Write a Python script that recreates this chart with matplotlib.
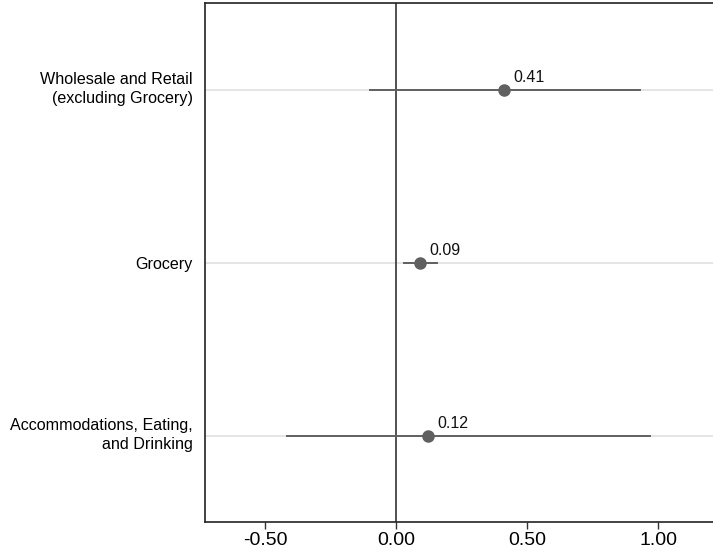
import matplotlib.pyplot as plt
import matplotlib.transforms as mtransforms

plt.rcParams['font.family'] = ['Liberation Sans', 'DejaVu Sans']

# Data
categories = ["Wholesale and Retail\n(excluding Grocery)",
              "Grocery",
              "Accommodations, Eating,\nand Drinking"]
estimates = [0.41, 0.09, 0.12]
ci_low = [-0.10, 0.03, -0.415]
ci_high = [0.93, 0.155, 0.97]
xticks = [-0.5, 0.0, 0.5, 1.0]

fig = plt.figure(figsize=(7.13, 5.59), dpi=100)
ax = fig.add_axes([205 / 713, 1 - 522 / 559, 1 - 205 / 713, (522 - 3) / 559])

ypos = list(range(len(categories), 0, -1))
point_col = '#606060'

for y in ypos:
    ax.axhline(y, color='#e0e0e0', lw=1.2, zorder=1)
ax.axvline(0, color='#333333', lw=1.2, zorder=2)

for y, est, lo, hi in zip(ypos, estimates, ci_low, ci_high):
    ax.plot([lo, hi], [y, y], color=point_col, lw=1.4, zorder=3)
    ax.plot(est, y, 'o', color=point_col, ms=8, zorder=4)
    ax.annotate(f"{est:.2f}", (est, y), xytext=(7, 3), textcoords='offset points',
                ha='left', va='bottom', fontsize=11.5, color='#111111')

ax.set_xlim(-0.73, 1.21)
ax.set_ylim(0.5, len(categories) + 0.5)
ax.set_xticks(xticks)
ax.set_xticklabels([f"{t:.2f}" for t in xticks], fontsize=14)
ax.set_yticks(ypos)
ax.set_yticklabels(categories, fontsize=11.6, ha='right', linespacing=1.3)
ax.tick_params(axis='y', length=0, pad=9)
ax.tick_params(axis='x', length=5, width=1, color='#333333', pad=2)

# two-line labels sit a little above the row line
shift = mtransforms.ScaledTranslation(0, 4 / 100, fig.dpi_scale_trans)
for lab in ax.get_yticklabels():
    if '\n' in lab.get_text():
        lab.set_transform(lab.get_transform() + shift)

for s in ['left', 'bottom', 'top']:
    ax.spines[s].set_linewidth(1.2)
    ax.spines[s].set_color('#222222')
ax.spines['right'].set_visible(False)

fig.savefig('out.png', dpi=100)
